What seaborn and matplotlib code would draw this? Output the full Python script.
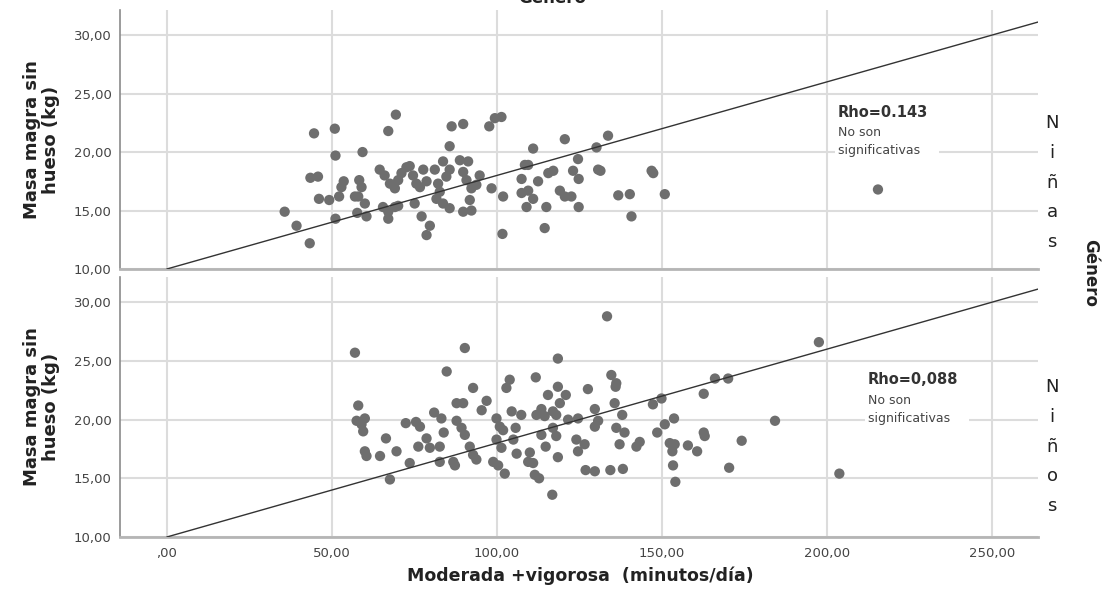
import matplotlib
matplotlib.use("Agg")
import matplotlib.pyplot as plt
import pandas as pd
import seaborn as sns

# ---------------- data ----------------
ninas_x = [35.7, 39.3, 43.3, 44.6, 50.9, 51.1, 43.5, 45.8, 46.1, 49.2,
           51.1, 52.2, 52.9, 53.6, 59.3, 58.3, 59.0, 57.0, 58.0, 60.0,
           60.5, 57.7, 64.5, 67.1, 69.4, 66.0, 67.6, 69.1, 70.1, 71.1,
           72.6, 73.6, 65.5, 67.1, 69.1, 70.1, 67.1, 75.1, 77.2, 79.7,
           78.7, 74.6, 75.6, 76.7, 77.7, 78.7, 81.2, 82.2, 82.7, 83.7,
           85.7, 84.7, 81.7, 83.7, 85.7, 86.3, 89.8, 85.7, 88.8, 91.3,
           89.8, 90.8, 92.3, 93.8, 94.8, 91.8, 89.8, 92.3, 97.7, 99.4,
           101.4, 98.4, 101.9, 101.7, 111.0, 108.5, 109.5, 107.5, 112.5, 115.6,
           117.1, 107.5, 109.5, 111.0, 109.0, 115.0, 114.5, 119.1, 120.6, 122.6,
           124.8, 120.6, 124.6, 123.1, 124.8, 130.2, 133.7, 130.7, 131.4, 136.8,
           140.3, 140.8, 146.9, 147.4, 150.9, 215.5]
ninas_y = [14.9, 13.7, 12.2, 21.6, 22.0, 19.7, 17.8, 17.9, 16.0, 15.9,
           14.3, 16.2, 17.0, 17.5, 20.0, 17.6, 17.0, 16.2, 16.2, 15.6,
           14.5, 14.8, 18.5, 21.8, 23.2, 18.0, 17.3, 16.9, 17.6, 18.2,
           18.7, 18.8, 15.3, 14.9, 15.3, 15.4, 14.3, 15.6, 14.5, 13.7,
           12.9, 18.0, 17.3, 17.0, 18.5, 17.5, 18.5, 17.3, 16.6, 19.2,
           18.5, 17.9, 16.0, 15.6, 15.2, 22.2, 22.4, 20.5, 19.3, 19.2,
           18.3, 17.6, 16.9, 17.2, 18.0, 15.9, 14.9, 15.0, 22.2, 22.9,
           23.0, 16.9, 16.2, 13.0, 20.3, 18.9, 18.9, 17.7, 17.5, 18.2,
           18.4, 16.5, 16.7, 16.0, 15.3, 15.3, 13.5, 16.7, 16.2, 16.2,
           15.3, 21.1, 19.4, 18.4, 17.7, 20.4, 21.4, 18.5, 18.4, 16.3,
           16.4, 14.5, 18.4, 18.2, 16.4, 16.8]

ninos_x = [57.0, 58.0, 57.5, 59.0, 60.0, 59.5, 60.0, 60.5, 64.6, 66.4,
           69.6, 67.6, 73.6, 72.4, 75.5, 76.7, 78.7, 76.2, 79.7, 82.7,
           81.0, 83.2, 83.9, 84.8, 90.3, 92.8, 87.8, 89.8, 87.8, 89.3,
           90.3, 82.7, 86.8, 87.3, 91.8, 92.8, 93.8, 95.4, 96.9, 99.9,
           100.9, 101.9, 99.9, 101.4, 98.9, 100.4, 102.4, 102.9, 103.9, 104.5,
           105.0, 106.0, 133.4, 118.5, 111.8, 118.5, 115.5, 120.9, 119.1, 127.6,
           134.7, 136.2, 136.0, 107.4, 112.0, 113.5, 114.5, 117.0, 118.0, 105.7,
           113.5, 117.0, 118.0, 121.6, 124.6, 129.7, 130.7, 129.7, 135.7, 138.0,
           136.2, 138.7, 110.0, 109.5, 111.0, 114.8, 118.5, 111.5, 112.8, 116.8,
           124.1, 124.6, 126.6, 126.9, 129.7, 134.4, 138.2, 137.2, 142.3, 143.3,
           147.3, 149.9, 148.6, 150.9, 153.7, 152.4, 153.9, 153.2, 157.9, 160.7,
           153.4, 154.1, 166.1, 170.1, 162.7, 184.3, 162.7, 163.0, 174.2, 170.4,
           203.8, 197.6]
ninos_y = [25.7, 21.2, 19.9, 19.6, 20.1, 19.0, 17.3, 16.9, 16.9, 18.4,
           17.3, 14.9, 16.3, 19.7, 19.8, 19.4, 18.4, 17.7, 17.6, 17.7,
           20.6, 20.1, 18.9, 24.1, 26.1, 22.7, 21.4, 21.4, 19.9, 19.3,
           18.7, 16.4, 16.4, 16.1, 17.7, 17.0, 16.6, 20.8, 21.6, 20.1,
           19.4, 19.1, 18.3, 17.6, 16.4, 16.1, 15.4, 22.7, 23.4, 20.7,
           18.3, 17.1, 28.8, 25.2, 23.6, 22.8, 22.1, 22.1, 21.4, 22.6,
           23.8, 23.1, 22.8, 20.4, 20.4, 20.9, 20.3, 20.7, 20.4, 19.3,
           18.7, 19.3, 18.6, 20.0, 20.1, 20.9, 19.9, 19.4, 21.4, 20.4,
           19.3, 18.9, 17.2, 16.4, 16.3, 17.7, 16.8, 15.3, 15.0, 13.6,
           18.3, 17.3, 17.9, 15.7, 15.6, 15.7, 15.8, 17.9, 17.7, 18.1,
           21.3, 21.8, 18.9, 19.6, 20.1, 18.0, 17.9, 17.3, 17.8, 17.3,
           16.1, 14.7, 23.5, 23.5, 22.2, 19.9, 18.9, 18.6, 18.2, 15.9,
           15.4, 26.6]

x_ticks = [0, 50, 100, 150, 200, 250]
y_ticks = [10, 15, 20, 25, 30]
line_intercept = 10.0
line_slope = 0.08
panel_labels = ["Niñas", "Niños"]
rho_texts = ["Rho=0.143", "Rho=0,088"]
note_text = "No son\nsignificativas"

# ---------------- figure ----------------
sns.set_theme(style="white")
plt.rcParams['font.family'] = ['DejaVu Sans']

W, H = 1108, 605
fig = plt.figure(figsize=(W / 100, H / 100), dpi=100)


def rect(l, t, r, b):
    return [l / W, 1 - b / H, (r - l) / W, (b - t) / H]


def fmt(v):
    s = f"{v:.2f}".replace('.', ',')
    if s.startswith('0,'):
        s = s[1:]
    return s


ax1 = fig.add_axes(rect(120, 10, 1038, 269))
ax2 = fig.add_axes(rect(120, 277, 1038, 537))

dfs = [pd.DataFrame({"mvpa": ninas_x, "masa": ninas_y}),
       pd.DataFrame({"mvpa": ninos_x, "masa": ninos_y})]

for i, (ax, df) in enumerate(zip([ax1, ax2], dfs)):
    ax.set_xlim(-14.2, 264)
    ax.set_ylim(10, 32.15)
    ax.set_xticks(x_ticks)
    ax.set_yticks(y_ticks)
    ax.grid(True, color='#dcdcdc', lw=1.5)
    ax.set_axisbelow(True)
    sns.scatterplot(data=df, x="mvpa", y="masa", ax=ax, color='#6e6e6e',
                    s=55, edgecolor='none', linewidth=0, legend=False, zorder=3)
    ax.axline((0, line_intercept), slope=line_slope, color='#333333', lw=1.0, zorder=4)
    for sp in ['top', 'right']:
        ax.spines[sp].set_visible(False)
    ax.spines['left'].set_color('#8a8a8a')
    ax.spines['left'].set_linewidth(1.2)
    ax.spines['bottom'].set_color('#b5b5b5')
    ax.spines['bottom'].set_linewidth(2.0)
    ax.set_yticklabels([fmt(v) for v in y_ticks], fontsize=9.5, color='#444444')
    ax.tick_params(axis='y', length=0, pad=6)
    ax.tick_params(axis='x', length=4, color='#bbbbbb', width=1, pad=3)
    if i == 0:
        ax.set_xticklabels([])
    else:
        ax.set_xticklabels([fmt(v) for v in x_ticks], fontsize=9.5, color='#444444')
    ax.set_xlabel("")
    ax.set_ylabel("Masa magra sin\nhueso (kg)", fontsize=13, fontweight='bold',
                  color='#222222', labelpad=10, linespacing=1.1)

# annotations (Rho text)
ax1.text(203.4, 23.4, rho_texts[0], fontsize=10.5, fontweight='bold', color='#333333',
         va='center', ha='left', zorder=6)
ax1.text(203.4, 22.2, note_text + "    ", fontsize=9, color='#444444', va='top', ha='left',
         linespacing=1.5, zorder=6,
         bbox=dict(facecolor='white', edgecolor='none', pad=2))
ax2.text(212.5, 23.4, rho_texts[1], fontsize=10.5, fontweight='bold', color='#333333',
         va='center', ha='left', zorder=6)
ax2.text(212.5, 22.2, note_text + "    ", fontsize=9, color='#444444', va='top', ha='left',
         linespacing=1.5, zorder=6,
         bbox=dict(facecolor='white', edgecolor='none', pad=2))

# stacked facet labels on the right
starts = [123, 387]
for lab, y0 in zip(panel_labels, starts):
    for k, ch in enumerate(lab):
        fig.text(1052 / W, 1 - (y0 + k * 29.8) / H, ch, fontsize=13, color='#222222',
                 ha='center', va='center')

fig.text(1090 / W, 1 - 273 / H, "Género", fontsize=12, fontweight='bold',
         color='#222222', rotation=270, ha='center', va='center')
fig.text(552 / W, 1 - 3 / H, "Género", fontsize=12, fontweight='bold',
         color='#222222', ha='center', va='baseline')

fig.text(580 / W, 1 - 576 / H, "Moderada +vigorosa  (minutos/día)", fontsize=12.5,
         fontweight='bold', color='#222222', ha='center', va='center')

fig.savefig("out.png", dpi=100)
